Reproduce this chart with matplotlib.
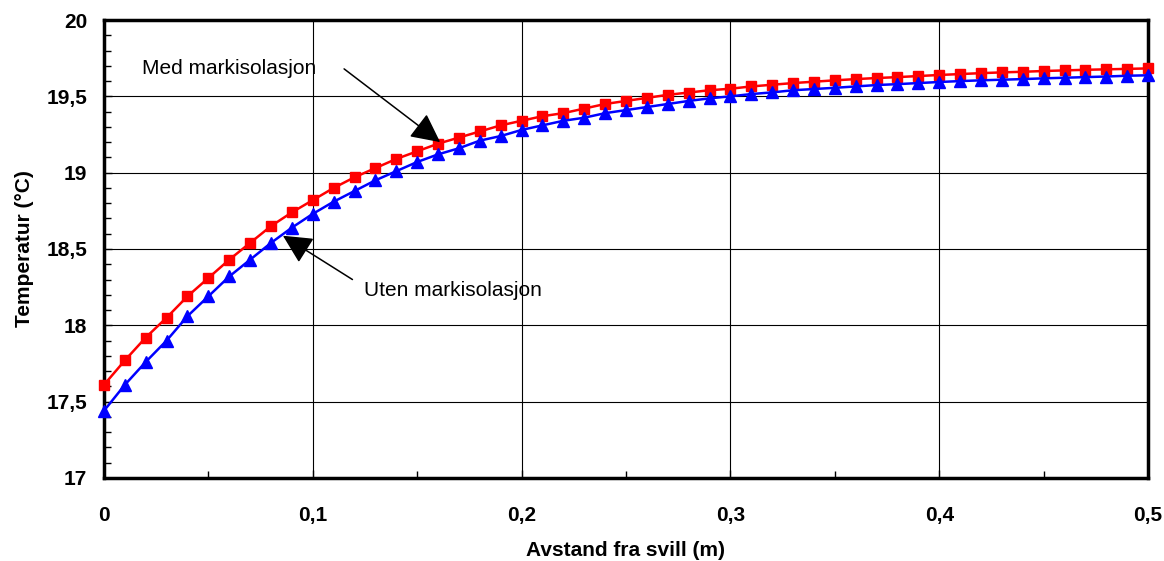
import numpy as np
import matplotlib.pyplot as plt
from matplotlib.ticker import MultipleLocator, FuncFormatter

# avstand fra svill (m)
x = [i / 100 for i in range(51)]

# med markisolasjon (rød, firkanter)
med = [17.61, 17.77, 17.92, 18.05, 18.19, 18.31, 18.43, 18.54, 18.65, 18.74,
       18.82, 18.90, 18.97, 19.03, 19.09, 19.14, 19.19, 19.23, 19.27, 19.31,
       19.34, 19.37, 19.39, 19.42, 19.45, 19.47, 19.49, 19.51, 19.525, 19.54,
       19.55, 19.565, 19.576, 19.587, 19.596, 19.605, 19.613, 19.62, 19.626, 19.633,
       19.64, 19.646, 19.652, 19.657, 19.661, 19.666, 19.67, 19.674, 19.677, 19.68,
       19.683]

# uten markisolasjon (blå, trekanter)
uten = [17.44, 17.61, 17.76, 17.90, 18.06, 18.19, 18.32, 18.43, 18.54, 18.64,
        18.73, 18.81, 18.88, 18.95, 19.01, 19.07, 19.12, 19.16, 19.21, 19.24,
        19.28, 19.31, 19.34, 19.36, 19.39, 19.41, 19.43, 19.45, 19.47, 19.487,
        19.50, 19.515, 19.526, 19.54, 19.548, 19.556, 19.565, 19.574, 19.58, 19.587,
        19.594, 19.60, 19.605, 19.609, 19.613, 19.618, 19.622, 19.626, 19.63, 19.635,
        19.638]

plt.rcParams['font.family'] = ['Liberation Sans', 'DejaVu Sans']

fig = plt.figure(figsize=(11.64, 5.61), dpi=100)
ax = fig.add_axes([0.0893, 0.148, 0.897, 0.8163])

ax.plot(x, med, color='#FF0000', lw=1.8, marker='s', ms=7.5, zorder=3, clip_on=False)
ax.plot(x, uten, color='#0000FF', lw=1.8, marker='^', ms=8.5, zorder=3, clip_on=False)

ax.set_xlim(0, 0.5)
ax.set_ylim(17, 20)
ax.xaxis.set_major_locator(MultipleLocator(0.1))
ax.xaxis.set_minor_locator(MultipleLocator(0.05))
ax.yaxis.set_major_locator(MultipleLocator(0.5))
ax.yaxis.set_minor_locator(MultipleLocator(0.1))

komma = FuncFormatter(lambda v, p: ('%g' % round(v, 2)).replace('.', ','))
ax.xaxis.set_major_formatter(komma)
ax.yaxis.set_major_formatter(komma)

ax.grid(True, which='major', color='black', lw=0.8)
ax.tick_params(which='both', direction='in', top=False, right=False)
ax.tick_params(which='major', length=6, width=1)
ax.tick_params(which='minor', length=5, width=1)
ax.tick_params(axis='y', pad=12)
ax.tick_params(axis='x', pad=20)
for lab in ax.get_xticklabels() + ax.get_yticklabels():
    lab.set_fontweight('bold')
    lab.set_fontsize(15)

for s in ax.spines.values():
    s.set_linewidth(2.5)

ax.set_xlabel('Avstand fra svill (m)', fontsize=15, fontweight='bold', labelpad=12)
ax.set_ylabel('Temperatur (°C)', fontsize=15, fontweight='bold', labelpad=9)

pil = dict(arrowstyle='-|>,head_length=0.9,head_width=0.45', mutation_scale=20,
           color='black', lw=1.1, shrinkA=0, shrinkB=0)
ax.annotate('', xy=(0.161, 19.20), xytext=(0.115, 19.68), arrowprops=pil)
ax.text(0.060, 19.68, 'Med markisolasjon', fontsize=15, ha='center', va='center')
ax.annotate('', xy=(0.0857, 18.587), xytext=(0.119, 18.30), arrowprops=pil)
ax.text(0.167, 18.23, 'Uten markisolasjon', fontsize=15, ha='center', va='center')

fig.savefig('out.png', dpi=100)
